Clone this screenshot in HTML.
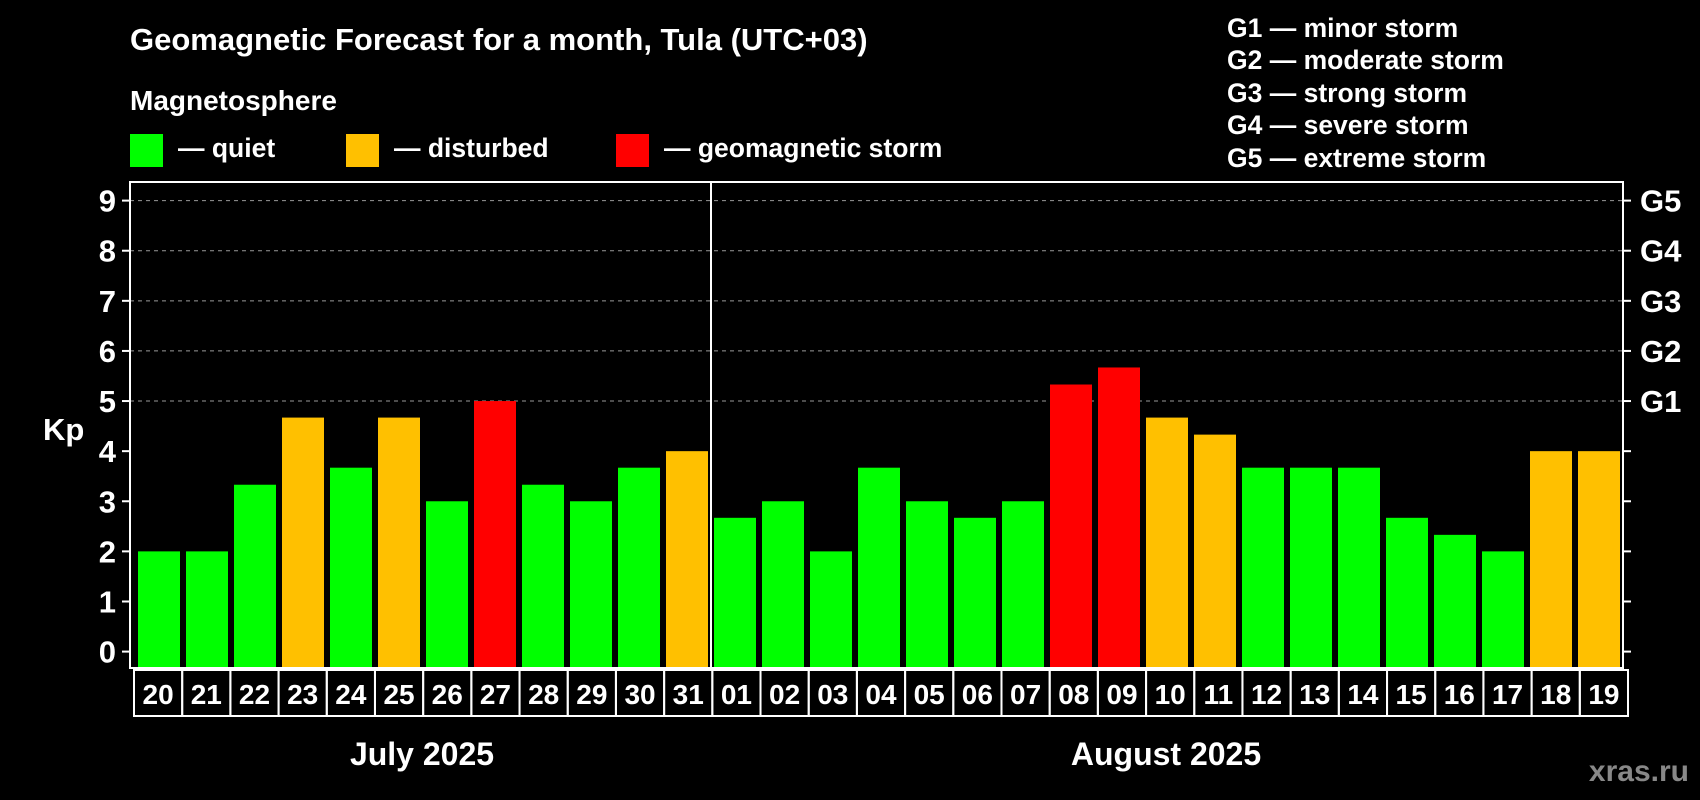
<!DOCTYPE html>
<html><head><meta charset="utf-8"><style>
html,body{margin:0;padding:0;background:#000;width:1700px;height:800px;overflow:hidden}
text{font-family:"Liberation Sans",Arial,sans-serif;font-weight:bold;fill:#fff}
</style></head><body>
<svg id="chart" width="1700" height="800" xmlns="http://www.w3.org/2000/svg">
<text x="130" y="50" font-size="31">Geomagnetic Forecast for a month, Tula (UTC+03)</text>
<text x="130" y="110" font-size="28">Magnetosphere</text>
<g>
<rect x="130" y="134" width="33" height="33" fill="#00ff00"/>
<text x="178" y="157" font-size="26.5">— quiet</text>
<rect x="346" y="134" width="33" height="33" fill="#ffc000"/>
<text x="394" y="157" font-size="26.5">— disturbed</text>
<rect x="616" y="134" width="33" height="33" fill="#ff0000"/>
<text x="664" y="157" font-size="26.5">— geomagnetic storm</text>
</g>
<g font-size="26.5">
<text x="1227" y="37">G1 — minor storm</text>
<text x="1227" y="69">G2 — moderate storm</text>
<text x="1227" y="102">G3 — strong storm</text>
<text x="1227" y="134">G4 — severe storm</text>
<text x="1227" y="167">G5 — extreme storm</text>
</g>
<text x="43" y="440" font-size="31">Kp</text>
<g id="plot"></g>
<text x="422" y="765" font-size="32" text-anchor="middle">July 2025</text>
<text x="1166" y="765" font-size="32" text-anchor="middle">August 2025</text>
<text x="1689" y="781" font-size="30" text-anchor="end" style="fill:#888">xras.ru</text>
</svg>
<script>
const days = ["20","21","22","23","24","25","26","27","28","29","30","31","01","02","03","04","05","06","07","08","09","10","11","12","13","14","15","16","17","18","19"];
const kpValues = [2,2,3.33,4.67,3.67,4.67,3,5,3.33,3,3.67,4,2.67,3,2,3.67,3,2.67,3,5.33,5.67,4.67,4.33,3.67,3.67,3.67,2.67,2.33,2,4,4];
const yTicks = [0,1,2,3,4,5,6,7,8,9];
const gLabels = ["G1","G2","G3","G4","G5"];
const gLevels = [5,6,7,8,9];
const monthBreakIndex = 12;

const NS = "http://www.w3.org/2000/svg";
const plot = document.getElementById("plot");
const L = 130, R = 1623, T = 182, B = 668;
const y0 = 651.6, unit = (651.6 - 200.6) / 9;
const barPitch = 48, barStart = 138, barW = 42;
const cellL = 134, cellPitch = (1628 - 134) / days.length;
function y(v){ return y0 - v * unit; }
function bx(i){ return barStart + i * barPitch; }
function mk(tag, attrs){ const e = document.createElementNS(NS, tag); for (const k in attrs) e.setAttribute(k, attrs[k]); plot.appendChild(e); return e; }
function color(v){ return v >= 5 ? "#ff0000" : (v >= 4 ? "#ffc000" : "#00ff00"); }

yTicks.forEach(t => {
  if (t >= 5) {
    const g = mk("line", {x1: L, x2: R, y1: y(t), y2: y(t), stroke: "#999", "stroke-dasharray": "4,4", "stroke-width": 1});
    
    
  }
  const tk = mk("line", {x1: L - 8, x2: L, y1: y(t), y2: y(t), stroke: "#fff", "stroke-width": 2});
  
  
  const tk2 = mk("line", {x1: R, x2: R + 8, y1: y(t), y2: y(t), stroke: "#fff", "stroke-width": 2});
  
  
  const lb = mk("text", {x: 116, y: y(t) + 11, "font-size": 31, "text-anchor": "end"});
  lb.textContent = t;
  
  
});
gLabels.forEach((g, i) => {
  const lb = mk("text", {x: 1640, y: y(gLevels[i]) + 11, "font-size": 31});
  lb.textContent = g;
  
  
});
kpValues.forEach((v, i) => {
  const b = mk("rect", {x: bx(i), y: y(v), width: barW, height: B - 1 - y(v), fill: color(v)});
  
  
  const c = mk("rect", {x: cellL + i * cellPitch, y: 670, width: cellPitch, height: 46, fill: "none", stroke: "#fff", "stroke-width": 2});
  
  
  const t = mk("text", {x: cellL + i * cellPitch + cellPitch / 2, y: 704, "font-size": 28, "text-anchor": "middle"});
  t.textContent = days[i];
  
  
});
const frame = mk("rect", {x: L, y: T, width: R - L, height: B - T, fill: "none", stroke: "#fff", "stroke-width": 2});


const sepX = (bx(monthBreakIndex - 1) + barW + bx(monthBreakIndex)) / 2;
const sep = mk("line", {x1: sepX, x2: sepX, y1: T, y2: B, stroke: "#fff", "stroke-width": 2});


</script>
</body></html>
